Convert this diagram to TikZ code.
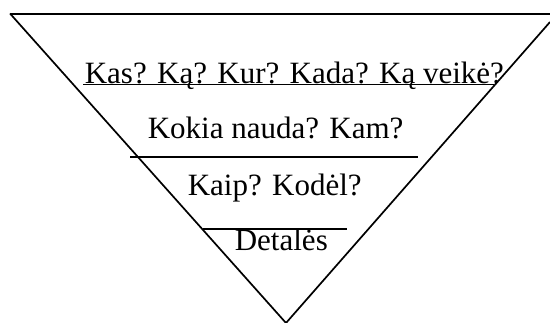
\documentclass[tikz,border=0pt]{standalone}
\usepackage{fontspec}
\setmainfont{Liberation Serif}
\begin{document}
\begin{tikzpicture}[x=1pt,y=-1pt,line width=1.7pt,
  txt/.style={anchor=base west,inner sep=0pt,font=\fontsize{31}{36}\selectfont}]
\useasboundingbox (0,0) rectangle (550,322);
% triangle
\coordinate (tl) at (10,13.5);
\coordinate (tr) at (550,13.5);
\coordinate (rs) at (550,22);
\coordinate (apex) at (286,323);
\draw[line width=2pt] (tl) -- (tr);
\draw (tl) -- (apex);
\draw (rs) -- (apex);
% texts
\node[txt] (t1) at (84,83) {Kas? Ką? Kur? Kada? Ką veikė?};
\node[txt] (t2) at (147,138) {Kokia nauda? Kam?};
\node[txt] (t3) at (187,195) {Kaip? Kodėl?};
\node[txt] (t4) at (234,250) {Detalės};
% separator lines
\coordinate (l1a) at (83,84.5);  \coordinate (l1b) at (494,84.5);
\coordinate (l2a) at (130,157);  \coordinate (l2b) at (418,157);
\coordinate (l3a) at (203,229);  \coordinate (l3b) at (347,229);
\draw (l1a) -- (l1b);
\draw (l2a) -- (l2b);
\draw (l3a) -- (l3b);
\end{tikzpicture}
\end{document}
